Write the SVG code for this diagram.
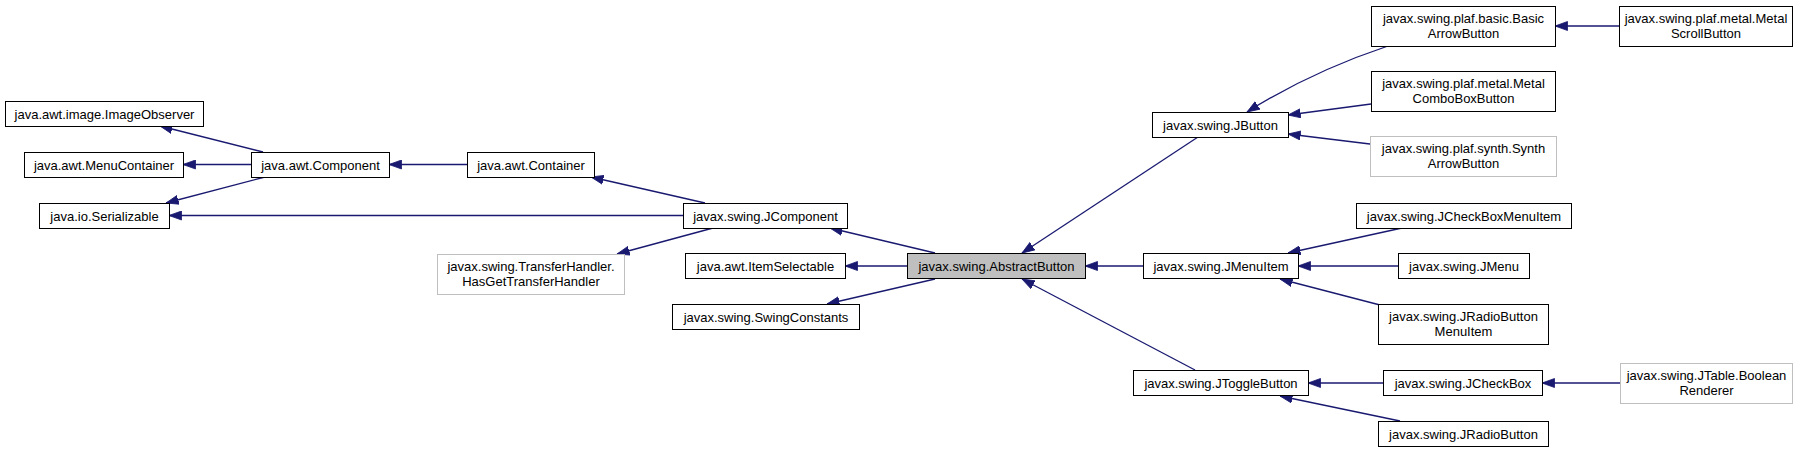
<svg xmlns="http://www.w3.org/2000/svg" width="1808" height="453" viewBox="0 0 1808 453">
<style>
.n rect{fill:#fff;stroke:#000;stroke-width:1}
.g rect{fill:#fff;stroke:#bfbfbf;stroke-width:1}
.hl rect{fill:#bfbfbf;stroke:#000;stroke-width:1}
text{font-family:"Liberation Sans",Arial,sans-serif;font-size:13px;fill:#000;text-anchor:middle}
.e{fill:none;stroke:#191970;stroke-width:1.3;marker-end:url(#ah)}
</style>
<defs>
<marker id="ah" markerUnits="userSpaceOnUse" markerWidth="13" markerHeight="10" viewBox="0 0 13 10" refX="12.5" refY="5" orient="auto">
<path d="M0,0.5 L12.5,5 L0,9.5 z" fill="#191970" stroke="#191970" stroke-width="0.8"/>
</marker>
</defs>
<rect width="1808" height="453" fill="#fff"/>
<g id="edges">
<path class="e" d="M263,152 L160,126"/>
<path class="e" d="M251,164.5 L183,164.5"/>
<path class="e" d="M265,177 L166,203"/>
<path class="e" d="M467,164.5 L389,164.5"/>
<path class="e" d="M705,203 L591,177"/>
<path class="e" d="M683,215.5 L169,215.5"/>
<path class="e" d="M713,228 L617,254"/>
<path class="e" d="M935,253 L830,228"/>
<path class="e" d="M907,266 L845,266"/>
<path class="e" d="M935,279 L827,304"/>
<path class="e" d="M1198,137 L1022,253"/>
<path class="e" d="M1143,266 L1085,266"/>
<path class="e" d="M1195,370 L1022,279"/>
<path class="e" d="M1388,46 C1340,62 1290,85 1247,112"/>
<path class="e" d="M1371,104 L1288,115"/>
<path class="e" d="M1370,144 L1288,134"/>
<path class="e" d="M1619,26 L1555,26"/>
<path class="e" d="M1402,228 L1288,253"/>
<path class="e" d="M1398,266 L1298,266"/>
<path class="e" d="M1380,305 L1280,279"/>
<path class="e" d="M1383,383 L1308,383"/>
<path class="e" d="M1400,421 L1280,396"/>
<path class="e" d="M1620,383 L1542,383"/>
</g>
<g id="ImageObserver" class="n"><rect x="5.5" y="101.5" width="198" height="25"/><text x="104.5" y="118.5">java.awt.image.ImageObserver</text></g>
<g id="MenuContainer" class="n"><rect x="24.5" y="152.5" width="159" height="25"/><text x="104" y="169.5">java.awt.MenuContainer</text></g>
<g id="Serializable" class="n"><rect x="39.5" y="203.5" width="130" height="25"/><text x="104.5" y="220.5">java.io.Serializable</text></g>
<g id="Component" class="n"><rect x="251.5" y="152.5" width="138" height="25"/><text x="320.5" y="169.5">java.awt.Component</text></g>
<g id="Container" class="n"><rect x="467.5" y="152.5" width="127" height="25"/><text x="531" y="169.5">java.awt.Container</text></g>
<g id="JComponent" class="n"><rect x="683.5" y="203.5" width="164" height="25"/><text x="765.5" y="220.5">javax.swing.JComponent</text></g>
<g id="TransferHandler" class="g"><rect x="437.5" y="254.5" width="187" height="40"/><text x="531" y="271">javax.swing.TransferHandler.</text><text x="531" y="286">HasGetTransferHandler</text></g>
<g id="ItemSelectable" class="n"><rect x="685.5" y="253.5" width="160" height="25"/><text x="765.5" y="270.5">java.awt.ItemSelectable</text></g>
<g id="SwingConstants" class="n"><rect x="672.5" y="304.5" width="187" height="25"/><text x="766" y="321.5">javax.swing.SwingConstants</text></g>
<g id="AbstractButton" class="hl"><rect x="907.5" y="253.5" width="178" height="25"/><text x="996.5" y="270.5">javax.swing.AbstractButton</text></g>
<g id="JButton" class="n"><rect x="1152.5" y="112.5" width="136" height="25"/><text x="1220.5" y="129.5">javax.swing.JButton</text></g>
<g id="JMenuItem" class="n"><rect x="1143.5" y="253.5" width="155" height="25"/><text x="1221" y="270.5">javax.swing.JMenuItem</text></g>
<g id="JToggleButton" class="n"><rect x="1133.5" y="370.5" width="175" height="25"/><text x="1221" y="387.5">javax.swing.JToggleButton</text></g>
<g id="BasicArrowButton" class="n"><rect x="1371.5" y="6.5" width="184" height="40"/><text x="1463.5" y="23">javax.swing.plaf.basic.Basic</text><text x="1463.5" y="38">ArrowButton</text></g>
<g id="MetalComboBoxButton" class="n"><rect x="1371.5" y="71.5" width="184" height="40"/><text x="1463.5" y="88">javax.swing.plaf.metal.Metal</text><text x="1463.5" y="103">ComboBoxButton</text></g>
<g id="SynthArrowButton" class="g"><rect x="1370.5" y="136.5" width="186" height="40"/><text x="1463.5" y="153">javax.swing.plaf.synth.Synth</text><text x="1463.5" y="168">ArrowButton</text></g>
<g id="MetalScrollButton" class="n"><rect x="1619.5" y="6.5" width="173" height="40"/><text x="1706" y="23">javax.swing.plaf.metal.Metal</text><text x="1706" y="38">ScrollButton</text></g>
<g id="JCheckBoxMenuItem" class="n"><rect x="1356.5" y="203.5" width="215" height="25"/><text x="1464" y="220.5">javax.swing.JCheckBoxMenuItem</text></g>
<g id="JMenu" class="n"><rect x="1398.5" y="253.5" width="131" height="25"/><text x="1464" y="270.5">javax.swing.JMenu</text></g>
<g id="JRadioButtonMenuItem" class="n"><rect x="1378.5" y="304.5" width="170" height="40"/><text x="1463.5" y="321">javax.swing.JRadioButton</text><text x="1463.5" y="336">MenuItem</text></g>
<g id="JCheckBox" class="n"><rect x="1383.5" y="370.5" width="159" height="25"/><text x="1463" y="387.5">javax.swing.JCheckBox</text></g>
<g id="JRadioButton" class="n"><rect x="1378.5" y="421.5" width="170" height="25"/><text x="1463.5" y="438.5">javax.swing.JRadioButton</text></g>
<g id="BooleanRenderer" class="g"><rect x="1620.5" y="363.5" width="172" height="40"/><text x="1706.5" y="380">javax.swing.JTable.Boolean</text><text x="1706.5" y="395">Renderer</text></g>
</svg>
